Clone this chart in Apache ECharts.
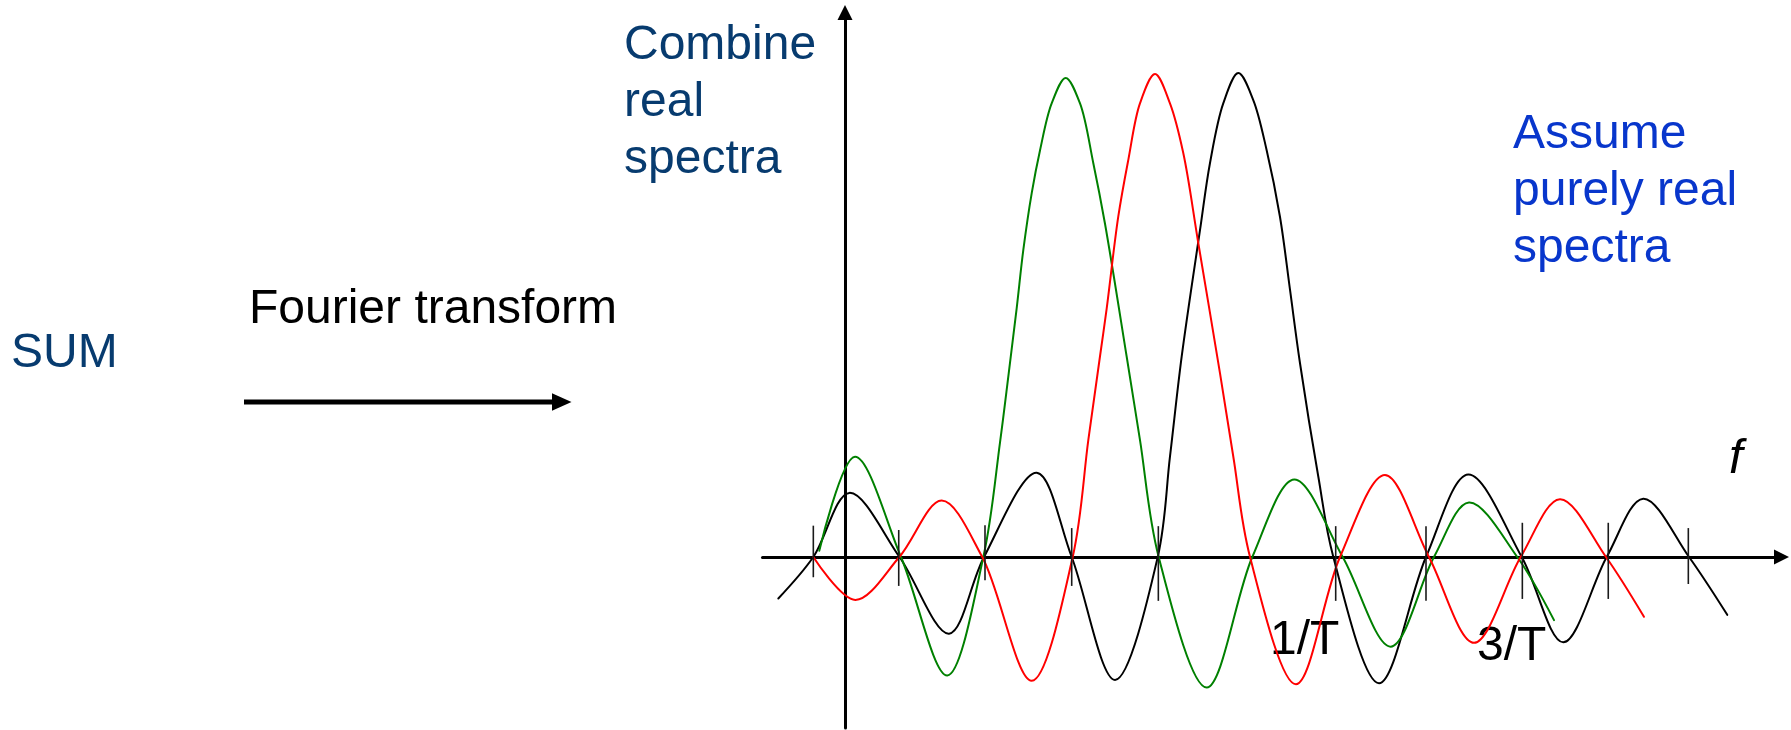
<!DOCTYPE html>
<html>
<head>
<meta charset="utf-8">
<title>Sum of shifted sinc spectra</title>
<script src="https://cdn.jsdelivr.net/npm/echarts@6/dist/echarts.min.js"></script>
<style>
  html, body { margin: 0; padding: 0; background: #ffffff; }
  #chart { width: 1791px; height: 730px; }
</style>
</head>
<body>
<div id="chart"></div>
<script>
// Frequency f in units of the zero-crossing spacing, amplitude normalised to the main lobe.
const greenSpectrum = [
  [-0.294, 0.013], [0.114, 0.208], [0.640, 0], [1.169, -0.246], [1.581, 0],
  [1.771, 0.237], [1.871, 0.381], [1.962, 0.516], [2.038, 0.637], [2.134, 0.755],
  [2.229, 0.844], [2.362, 0.941], [2.522, 0.994], [2.686, 0.941], [2.838, 0.817],
  [2.971, 0.692], [3.219, 0.416], [3.371, 0.243], [3.585, 0], [4.134, -0.271],
  [4.655, 0], [5.135, 0.161], [5.688, 0], [6.237, -0.186], [6.731, 0],
  [7.131, 0.113], [7.683, 0], [8.103, -0.131]
];

const redSpectrum = [
  [-0.362, 0], [0.118, -0.089], [0.621, 0], [1.105, 0.117], [1.569, 0],
  [2.134, -0.257], [2.602, 0], [2.781, 0.243], [2.914, 0.416], [2.991, 0.516],
  [3.123, 0.706], [3.238, 0.824], [3.371, 0.941], [3.543, 1.002], [3.714, 0.941],
  [3.866, 0.838], [4.038, 0.651], [4.286, 0.381], [4.438, 0.208], [4.629, 0],
  [5.154, -0.264], [5.657, 0], [6.171, 0.170], [6.674, 0], [7.189, -0.178],
  [7.722, 0], [8.171, 0.120], [8.697, 0], [9.131, -0.124]
];

const blackSpectrum = [
  [-0.762, -0.086], [-0.362, 0], [0.049, 0.133], [0.623, 0], [1.189, -0.159],
  [1.589, 0], [2.191, 0.175], [2.591, 0], [3.086, -0.255], [3.574, 0],
  [3.714, 0.208], [3.848, 0.416], [4.057, 0.678], [4.171, 0.817], [4.323, 0.941],
  [4.495, 1.004], [4.666, 0.948], [4.819, 0.844], [4.971, 0.706], [5.086, 0.554],
  [5.200, 0.402], [5.409, 0.167], [5.581, 0], [6.103, -0.262], [6.640, 0],
  [7.123, 0.171], [7.734, 0], [8.209, -0.177], [8.705, 0], [9.123, 0.121],
  [9.646, 0], [10.083, -0.120]
];

// Zero-crossing marks on the f axis: [f, upper end, lower end]
const zeroMarks = [
  [-0.362, 0.065, -0.042], [0.614, 0.056, -0.060], [1.600, 0.066, -0.048],
  [2.591, 0.060, -0.060], [3.581, 0.064, -0.091], [5.608, 0.064, -0.091],
  [6.640, 0.064, -0.091], [7.741, 0.071, -0.087], [8.723, 0.071, -0.087],
  [9.638, 0.060, -0.056]
];

const tickLabels = ['1/T', '3/T'];
const axisName = 'f';
const leftNote = 'SUM';
const arrowNote = 'Fourier transform';
const combineNote = ['Combine', 'real', 'spectra'];
const assumeNote = ['Assume', 'purely real', 'spectra'];

const FONT = '"Liberation Sans", Arial, Helvetica, sans-serif';
const NAVY = '#073b6f';
const BLUE = '#0836cc';

function textEl(str, x, y, color, opts) {
  opts = opts || {};
  return {
    type: 'text',
    x: x,
    y: y,
    silent: true,
    style: {
      text: str,
      fill: color,
      font: (opts.italic ? 'italic ' : '') + (opts.size || 48) + 'px ' + FONT,
      textAlign: 'left',
      textVerticalAlign: 'middle',
      verticalAlign: 'middle'
    }
  };
}

const graphics = [];
graphics.push(textEl(leftNote, 11, 354, NAVY));
graphics.push(textEl(arrowNote, 249, 310, '#000000'));
combineNote.forEach(function (line, i) { graphics.push(textEl(line, 624, 46 + 57 * i, NAVY)); });
assumeNote.forEach(function (line, i) { graphics.push(textEl(line, 1513, 135 + 57 * i, BLUE)); });
graphics.push(textEl(axisName, 1729, 459, '#000000', { italic: true, size: 49 }));
graphics.push(textEl(tickLabels[0], 1270, 641, '#000000'));
graphics.push(textEl(tickLabels[1], 1477, 647, '#000000'));
// Arrow under "Fourier transform"
graphics.push({
  type: 'line', silent: true,
  shape: { x1: 244, y1: 402, x2: 556, y2: 402 },
  style: { stroke: '#000000', lineWidth: 5 }
});
graphics.push({
  type: 'polygon', silent: true,
  shape: { points: [[552, 393.3], [571.5, 402], [552, 410.7]] },
  style: { fill: '#000000' }
});

// Centripetal Catmull-Rom spline through pixel points, as an SVG path string.
function splinePath(pts) {
  function dist(a, b) { return Math.sqrt((a[0] - b[0]) * (a[0] - b[0]) + (a[1] - b[1]) * (a[1] - b[1])); }
  let d = 'M' + pts[0][0].toFixed(2) + ' ' + pts[0][1].toFixed(2);
  for (let i = 0; i < pts.length - 1; i++) {
    const p0 = pts[i - 1] || pts[i];
    const p1 = pts[i];
    const p2 = pts[i + 1];
    const p3 = pts[i + 2] || pts[i + 1];
    const d1 = Math.sqrt(dist(p0, p1));
    const d2 = Math.sqrt(dist(p1, p2));
    const d3 = Math.sqrt(dist(p2, p3));
    let c1 = p1;
    let c2 = p2;
    if (d1 > 1e-6) {
      const a = d1 * d1, b = d2 * d2, k = 2 * a + 3 * d1 * d2 + b, den = 3 * d1 * (d1 + d2);
      c1 = [(a * p2[0] - b * p0[0] + k * p1[0]) / den, (a * p2[1] - b * p0[1] + k * p1[1]) / den];
    }
    if (d3 > 1e-6) {
      const a = d3 * d3, b = d2 * d2, k = 2 * a + 3 * d3 * d2 + b, den = 3 * d3 * (d3 + d2);
      c2 = [(a * p1[0] - b * p3[0] + k * p2[0]) / den, (a * p1[1] - b * p3[1] + k * p2[1]) / den];
    }
    d += ' C' + c1[0].toFixed(2) + ' ' + c1[1].toFixed(2) + ' ' +
         c2[0].toFixed(2) + ' ' + c2[1].toFixed(2) + ' ' +
         p2[0].toFixed(2) + ' ' + p2[1].toFixed(2);
  }
  return d;
}

function spectrumSeries(name, data, color, z) {
  return {
    name: name,
    type: 'custom',
    data: data,
    encode: { x: 0, y: 1 },
    silent: true,
    z: z,
    renderItem: function (params, api) {
      if (params.dataIndex !== 0) return null;
      const pts = data.map(function (p) { return api.coord(p); });
      return {
        type: 'path',
        shape: { pathData: splinePath(pts) },
        style: { stroke: color, lineWidth: 2, fill: 'none', lineCap: 'round', lineJoin: 'round' }
      };
    }
  };
}

const chart = echarts.init(document.getElementById('chart'), null, { renderer: 'canvas' });
chart.setOption({
  animation: false,
  backgroundColor: '#ffffff',
  grid: { left: 762.5, right: 9.5, top: 12.5, bottom: 2, containLabel: false },
  xAxis: {
    type: 'value',
    min: -0.942857,
    max: 10.702857,
    axisLine: {
      onZero: true,
      symbol: ['none', 'triangle'],
      symbolSize: [15, 15],
      lineStyle: { color: '#000000', width: 3 }
    },
    axisTick: { show: false },
    axisLabel: { show: false },
    splitLine: { show: false }
  },
  yAxis: {
    type: 'value',
    min: -0.354772,
    max: 1.129668,
    axisLine: {
      onZero: true,
      symbol: ['none', 'triangle'],
      symbolSize: [15, 15],
      lineStyle: { color: '#000000', width: 3 }
    },
    axisTick: { show: false },
    axisLabel: { show: false },
    splitLine: { show: false }
  },
  series: [
    spectrumSeries('black', blackSpectrum, '#000000', 2),
    spectrumSeries('green', greenSpectrum, '#008000', 3),
    spectrumSeries('red', redSpectrum, '#ff0000', 4),
    {
      name: 'zeros',
      type: 'custom',
      data: zeroMarks,
      encode: { x: 0, y: [1, 2] },
      silent: true,
      z: 5,
      renderItem: function (params, api) {
        const top = api.coord([api.value(0), api.value(1)]);
        const bottom = api.coord([api.value(0), api.value(2)]);
        return {
          type: 'line',
          shape: { x1: top[0], y1: top[1], x2: bottom[0], y2: bottom[1] },
          style: { stroke: '#1a1a1a', lineWidth: 1.6 }
        };
      }
    }
  ],
  graphic: graphics
});
</script>
</body>
</html>
